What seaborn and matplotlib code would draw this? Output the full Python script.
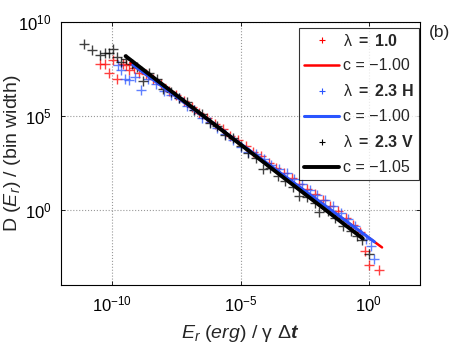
import numpy as np
import matplotlib
matplotlib.use("Agg")
import matplotlib.pyplot as plt
import seaborn as sns
from matplotlib.ticker import FixedLocator, LogFormatterSciNotation, NullLocator
from matplotlib.lines import Line2D

# log10 of E_r and of D(E_r)
red_lx = [-10.47, -10.30, -10.13, -9.98, -9.82, -9.59, -9.45, -9.33, -9.15, -8.95,
          -8.7, -8.4, -8.1, -7.8, -7.5, -7.2, -6.9, -6.6, -6.3, -6.0,
          -5.7, -5.4, -5.1, -4.8, -4.5, -4.2, -3.9, -3.6, -3.3, -3.0,
          -2.7, -2.4, -2.1, -1.8, -1.5, -1.2, -0.9, -0.6, -0.35, -0.14, 0.03, 0.39]
red_ly = [7.79, 7.74, 7.29, 7.97, 6.94, 7.79, 7.70, 7.43, 7.55, 7.30,
          7.25, 6.95, 6.70, 6.35, 6.10, 5.78, 5.50, 5.15, 4.90, 4.55,
          4.30, 3.95, 3.70, 3.40, 3.10, 2.85, 2.50, 2.25, 1.95, 1.70,
          1.40, 1.10, 0.85, 0.55, 0.20, -0.05, -0.45, -0.80, -1.20, -2.19, -2.94, -3.20]

blue_lx = [-9.78, -9.65, -9.52, -9.33, -9.13, -8.87, -8.6, -8.3, -8.0, -7.7,
           -7.4, -7.1, -6.8, -6.5, -6.2, -5.9, -5.6, -5.3, -5.0, -4.7,
           -4.4, -4.1, -3.8, -3.5, -3.2, -2.9, -2.6, -2.3, -2.0, -1.7,
           -1.4, -1.1, -0.8, -0.55, -0.3, -0.1, 0.09, 0.22]
blue_ly = [7.70, 7.43, 6.99, 6.90, 7.08, 6.40, 6.95, 6.70, 6.35, 6.10,
           5.95, 5.55, 5.30, 4.90, 4.70, 4.35, 4.05, 3.70, 3.35, 3.10,
           2.95, 2.70, 2.40, 2.20, 1.95, 1.65, 1.40, 1.05, 0.80, 0.50,
           0.20, -0.15, -0.50, -0.85, -1.30, -1.55, -1.93, -2.64]

black_lx = [-11.12, -10.78, -10.47, -10.30, -10.13, -9.98, -9.82, -9.65, -9.45, -9.25,
            -9.05, -8.81, -8.55, -8.25, -8.03, -7.7, -7.4, -7.1, -6.8, -6.5,
            -6.2, -5.9, -5.6, -5.3, -5.0, -4.7, -4.4, -4.13, -3.85, -3.55,
            -3.25, -2.95, -2.70, -2.4, -2.1, -1.92, -1.6, -1.3, -1.0, -0.7,
            -0.45, -0.27, 0.03]
black_ly = [8.82, 8.50, 8.24, 8.33, 8.33, 8.54, 8.15, 7.88, 8.05, 7.75,
            7.60, 6.84, 7.30, 6.95, 6.45, 6.30, 5.95, 5.75, 5.30, 5.10,
            4.60, 4.45, 4.00, 3.85, 3.40, 3.05, 2.75, 2.18, 2.25, 1.80,
            1.55, 1.20, 0.75, 0.70, 0.35, -0.14, -0.05, -0.45, -0.85, -1.15,
            -1.40, -1.62, -2.34]

# power-law fits: slope c, log10 intercept, log10 x range
fit_c = [-1.00, -1.00, -1.05]
fit_b = [-1.48, -1.48, -1.77]
fit_x0 = [-9.3, -9.2, -9.48]
fit_x1 = [0.52, 0.22, -0.23]

labels = ["λ $\\mathbf{=\\ 1.0}$", "λ $\\mathbf{=\\ 2.3\\ H}$", "λ $\\mathbf{=\\ 2.3\\ V}$"]
colors = ["#ff0000", "#2a55ff", "#000000"]
fit_lw = [1.8, 2.2, 2.8]

sns.set_theme(style="ticks")
plt.rcParams["font.family"] = ["Liberation Sans", "DejaVu Sans"]
plt.rcParams["mathtext.fontset"] = "custom"
plt.rcParams["mathtext.rm"] = "Liberation Sans"
plt.rcParams["mathtext.it"] = "Liberation Sans:italic"
plt.rcParams["mathtext.bf"] = "Liberation Sans:bold"
plt.rcParams["mathtext.bfit"] = "Liberation Sans:bold:italic"

fig = plt.figure(figsize=(4.63, 3.48), dpi=100)
ax = fig.add_axes([61 / 463, 1 - 285 / 348, (420 - 61) / 463, (285 - 22) / 348])

series = [(red_lx, red_ly), (blue_lx, blue_ly), (black_lx, black_ly)]
handles = []
for i, (lx, ly) in enumerate(series):
    sns.scatterplot(x=10 ** np.array(lx), y=10 ** np.array(ly), marker="+", s=42,
                    color=colors[i], linewidth=1.0, alpha=0.75, ax=ax, zorder=2)
for i in range(3):
    xs = np.array([fit_x0[i], fit_x1[i]])
    ys = fit_b[i] + fit_c[i] * xs
    sns.lineplot(x=10 ** xs, y=10 ** ys, color=colors[i], linewidth=fit_lw[i],
                 ax=ax, zorder=3 + i)

for i in range(3):
    handles.append(Line2D([], [], marker="+", linestyle="none", color=colors[i],
                          markersize=5, markeredgewidth=0.8, label=labels[i]))
    handles.append(Line2D([], [], color=colors[i], linewidth=fit_lw[i],
                          label="c = \u22121.%02d" % round(-fit_c[i] * 100 - 100)))

ax.set_xscale("log")
ax.set_yscale("log")
ax.set_xlim(1e-12, 1e2)
ax.set_ylim(1e-4, 1e10)
ax.xaxis.set_major_locator(FixedLocator([1e-10, 1e-5, 1e0]))
ax.yaxis.set_major_locator(FixedLocator([1e0, 1e5, 1e10]))
ax.xaxis.set_major_formatter(LogFormatterSciNotation())
ax.yaxis.set_major_formatter(LogFormatterSciNotation())
ax.xaxis.set_minor_locator(NullLocator())
ax.yaxis.set_minor_locator(NullLocator())
ax.tick_params(direction="in", length=3, width=0.6, top=True, right=True,
               labelsize=12, colors="black", pad=7)
ax.grid(True, linestyle=":", color="0.6", linewidth=0.8)
for s in ax.spines.values():
    s.set_color("black")
    s.set_linewidth(0.8)

ax.set_xlabel("$E_r$ $\\it{(erg)}$ / γ Δ$\\mathbfit{t}$", fontsize=14)
ax.xaxis.set_label_coords(0.5, -0.145)
ax.set_ylabel("D ($E_r$) / (bin width)", fontsize=14)
ax.yaxis.set_label_coords(-0.105, 0.5)

leg = ax.legend(handles=handles, loc="upper right", bbox_to_anchor=(0.997, 0.978),
                fontsize=11.5, frameon=True, fancybox=False, edgecolor="black",
                handlelength=2.2, handletextpad=0.25, labelspacing=0.62,
                borderpad=0.3, borderaxespad=0)
leg.get_frame().set_linewidth(0.8)

fig.text(440 / 463, 1 - 32 / 348, "(b)", fontsize=12.5, ha="center", va="center")

fig.savefig("out.png", dpi=100)
